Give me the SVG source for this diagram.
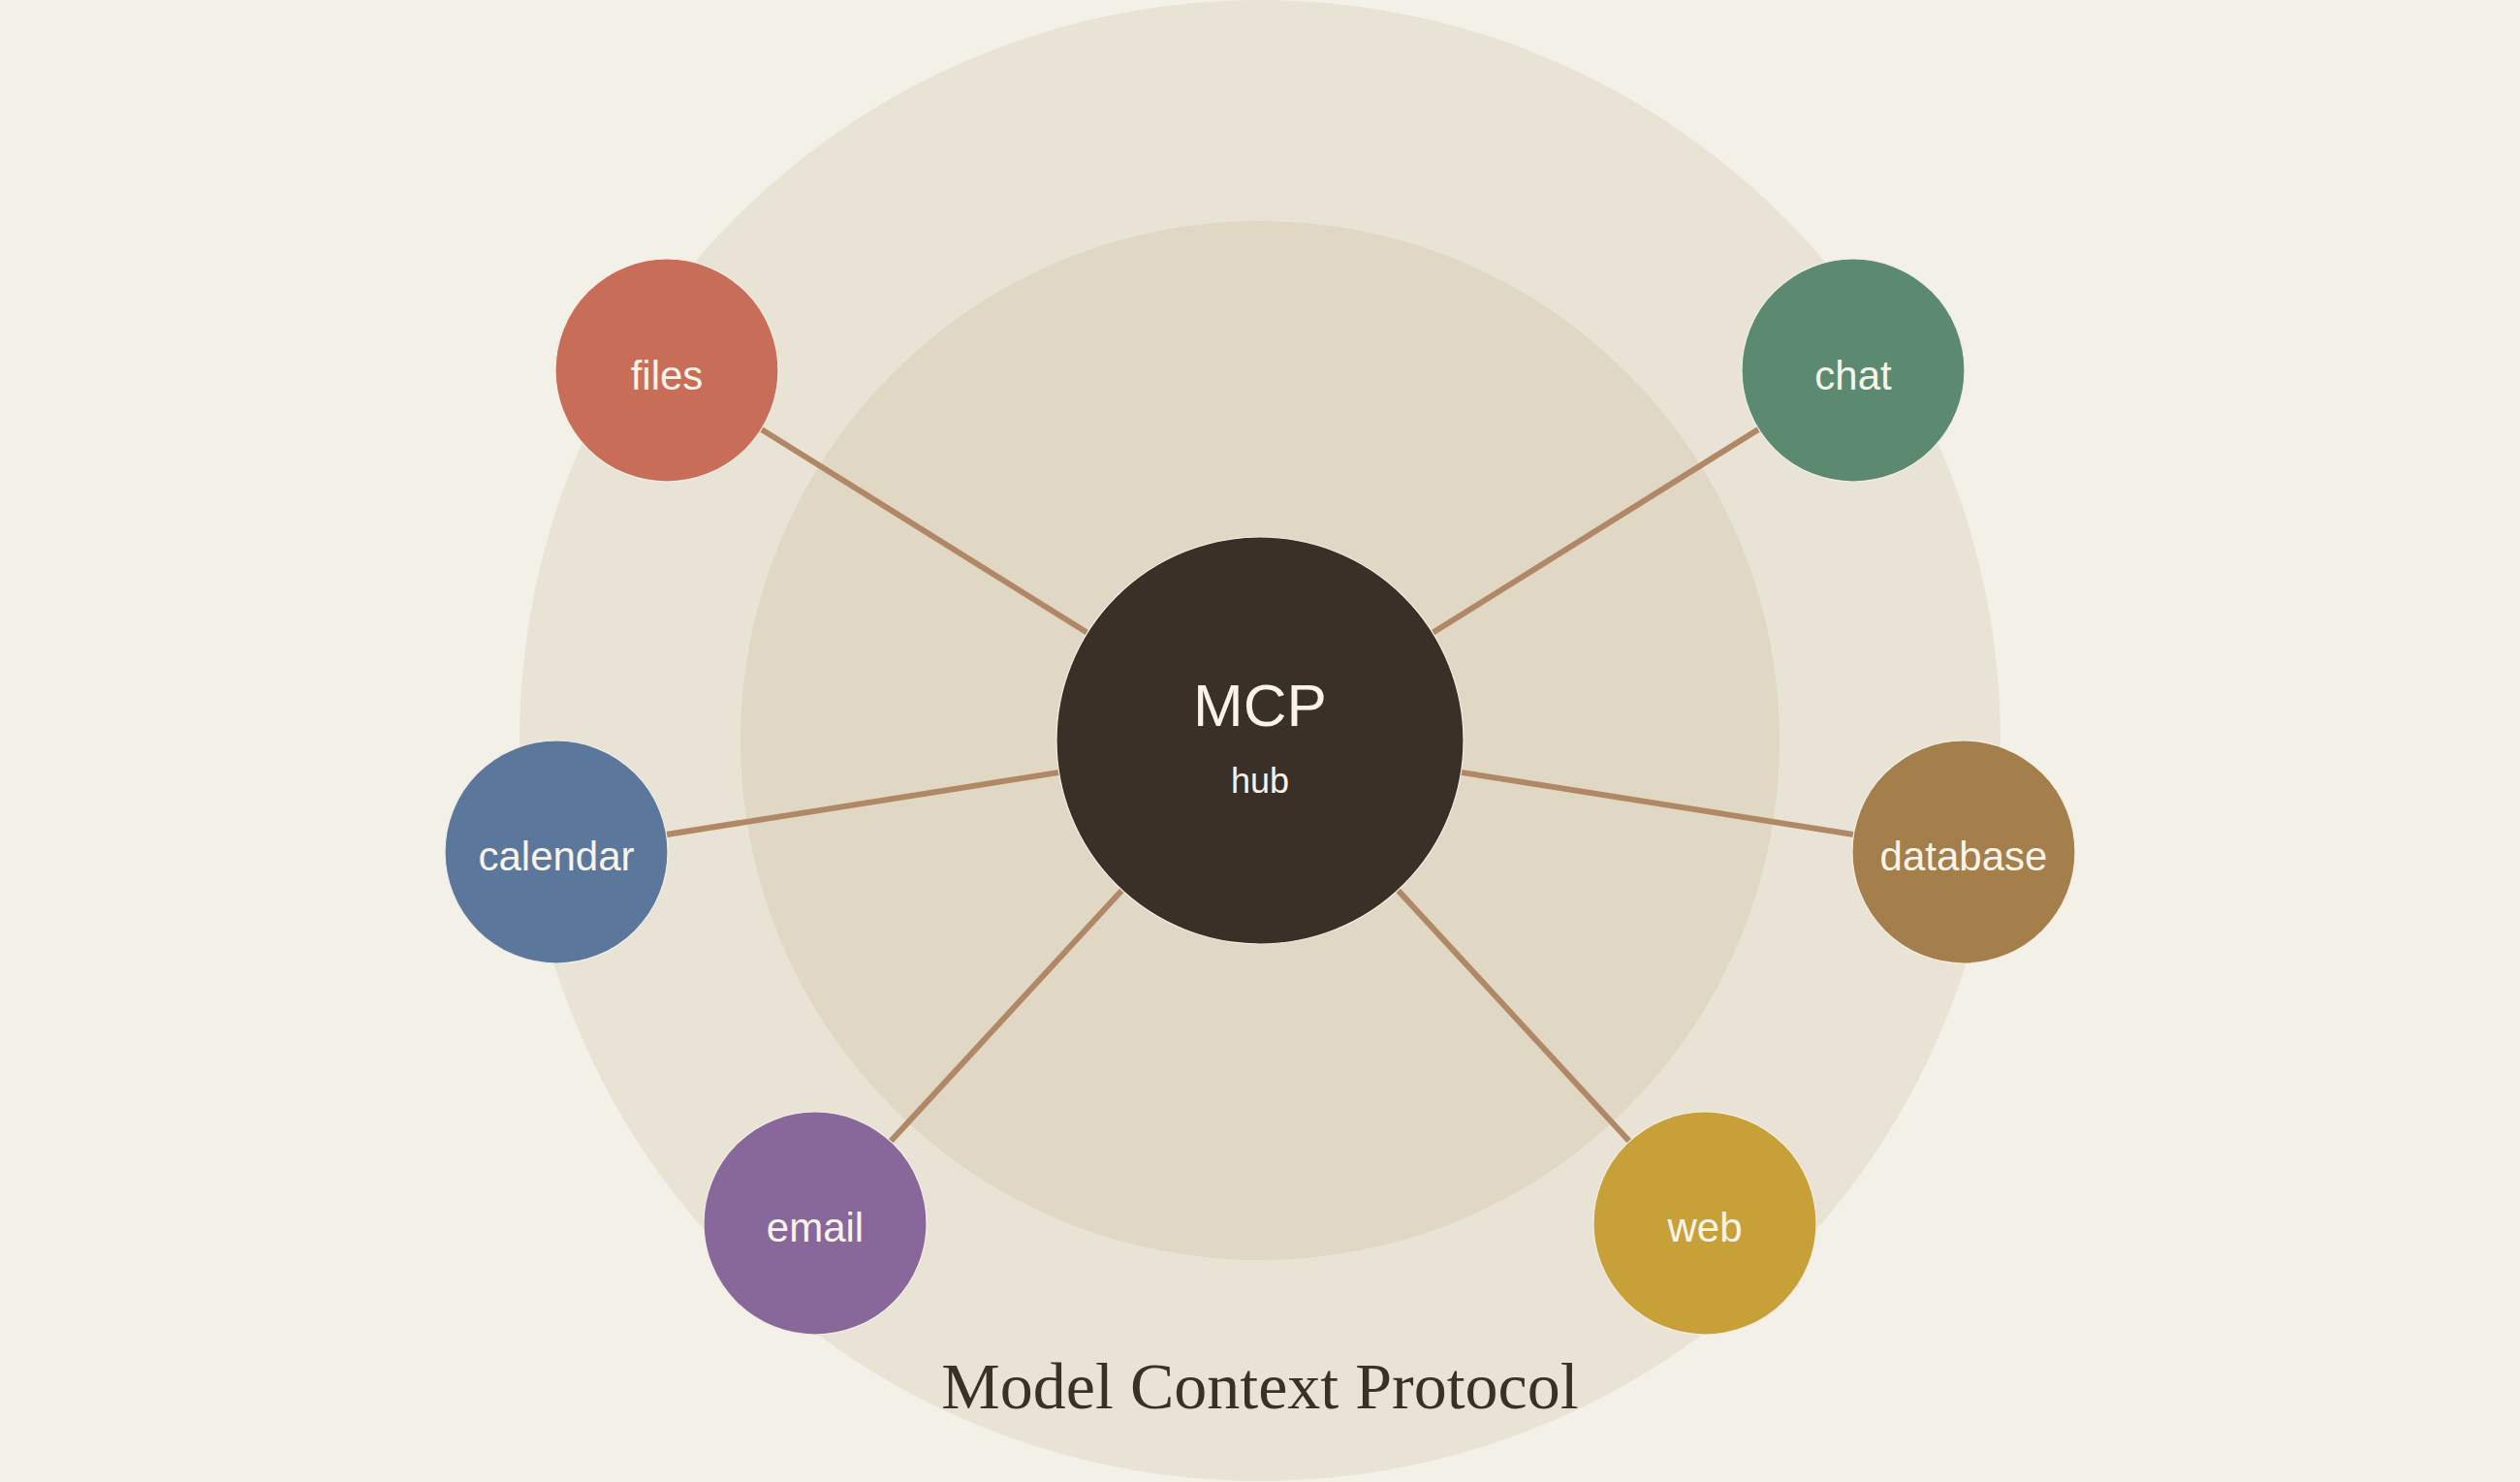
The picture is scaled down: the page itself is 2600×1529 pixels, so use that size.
<svg xmlns="http://www.w3.org/2000/svg" width="2600" height="1529" viewBox="0 0 2600 1529">
  <style>
    .sat { stroke: #F2EEE4; stroke-width: 1.2; }
    .lbl { font-family: "Liberation Sans", Arial, sans-serif; font-size: 42px; fill: #F8F4EA; text-anchor: middle; }
    .conn { stroke: #B08866; stroke-width: 6; stroke-linecap: round; fill: none; }
  </style>
  <rect x="0" y="0" width="2600" height="1529" fill="#F3F0E8"/>
  <g id="rings">
    <circle cx="1300" cy="764" r="764" fill="#E9E3D6"/>
    <circle cx="1300" cy="764" r="536" fill="#E0D8C5"/>
  </g>
  <g id="connectors">
    <line class="conn" x1="1300" y1="764" x2="688" y2="382"/>
    <line class="conn" x1="1300" y1="764" x2="1912" y2="382"/>
    <line class="conn" x1="1300" y1="764" x2="574" y2="879"/>
    <line class="conn" x1="1300" y1="764" x2="2026" y2="879"/>
    <line class="conn" x1="1300" y1="764" x2="841" y2="1262"/>
    <line class="conn" x1="1300" y1="764" x2="1759" y2="1262"/>
  </g>
  <g id="hub">
    <circle cx="1300" cy="764" r="210" fill="#3B3028" stroke="#F2EEE4" stroke-width="1.2"/>
    <text x="1300" y="749" font-family="Liberation Sans, Arial, sans-serif" font-size="62" fill="#F8F4EA" text-anchor="middle">MCP</text>
    <text x="1300" y="818" font-family="Liberation Sans, Arial, sans-serif" font-size="36" fill="#F8F4EA" text-anchor="middle">hub</text>
  </g>
  <g id="files">
    <circle class="sat" cx="688" cy="382" r="115" fill="#C86E58"/>
    <text class="lbl" x="688" y="402">files</text>
  </g>
  <g id="chat">
    <circle class="sat" cx="1912" cy="382" r="115" fill="#5B8A71"/>
    <text class="lbl" x="1912" y="402">chat</text>
  </g>
  <g id="calendar">
    <circle class="sat" cx="574" cy="879" r="115" fill="#5B789C"/>
    <text class="lbl" x="574" y="898">calendar</text>
  </g>
  <g id="database">
    <circle class="sat" cx="2026" cy="879" r="115" fill="#A47F4C"/>
    <text class="lbl" x="2026" y="898">database</text>
  </g>
  <g id="email">
    <circle class="sat" cx="841" cy="1262" r="115" fill="#88689B"/>
    <text class="lbl" x="841" y="1281">email</text>
  </g>
  <g id="web">
    <circle class="sat" cx="1759" cy="1262" r="115" fill="#C8A038"/>
    <text class="lbl" x="1759" y="1281">web</text>
  </g>
  <text id="title" x="1300" y="1453" font-family="Liberation Serif, Times New Roman, serif" font-size="68" fill="#3B3028" text-anchor="middle">Model Context Protocol</text>
</svg>
